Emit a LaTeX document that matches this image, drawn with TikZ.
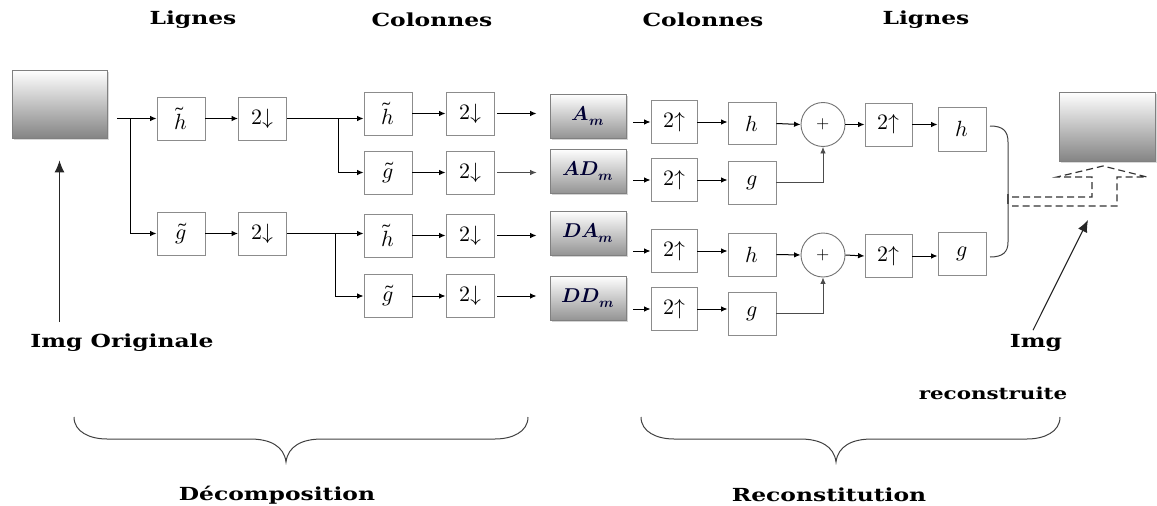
\documentclass[tikz,border=0pt]{standalone}
\usepackage{fontspec}
\usepackage{unicode-math}
\setmathfont{Latin Modern Math}
\newfontfamily\labfont[FakeStretch=1.3]{DejaVu Serif}
\usetikzlibrary{arrows.meta,shadows}

\begin{document}
\begin{tikzpicture}[x=1pt,y=-1pt,
  lab/.style={font=\labfont\bfseries\fontsize{18}{21}\selectfont, inner sep=0pt},
  filt/.style={draw=black!45, line width=0.9pt, fill=white, minimum width=48pt,
    minimum height=43pt, inner sep=0pt, font=\fontsize{22}{26}\selectfont},
  upbox/.style={filt, minimum width=46pt},
  band/.style={draw=black!50, line width=0.9pt, top color=white, bottom color=black!42,
    minimum width=76pt, minimum height=44pt, inner sep=0pt,
    drop shadow={shadow xshift=1.5pt, shadow yshift=-1.5pt, opacity=0.35},
    font=\fontsize{20}{24}\selectfont, text=black!80!blue},
  imgbox/.style={draw=black!50, line width=0.9pt, top color=white, bottom color=black!48,
    inner sep=0pt, drop shadow={shadow xshift=1.5pt, shadow yshift=-1.5pt, opacity=0.3}},
  summer/.style={circle, draw=black!55, line width=0.9pt, fill=white, minimum size=44pt,
    inner sep=0pt, font=\fontsize{17}{20}\selectfont},
  arr/.style={-{Latex[length=6.5pt,width=5.5pt]}, line width=1pt},
  thinarr/.style={-{Latex[length=6.5pt,width=5.5pt]}, line width=0.8pt, draw=black!70},
  bigarr/.style={-{Latex[length=12pt,width=10pt]}, line width=1.1pt, draw=black!85},
  brace/.style={line width=1pt, draw=black!75}
]
\useasboundingbox (0,0) rectangle (1157,506);

% column headings
\node[lab] (t1) at (193,20) {Lignes};
\node[lab] (t2) at (432,20) {Colonnes};
\node[lab] (t3) at (703,20) {Colonnes};
\node[lab] (t4) at (926,20) {Lignes};

% input and output images
\node[imgbox, minimum width=95pt, minimum height=68pt] (orig) at (59.5,104) {};
\node[imgbox, minimum width=96pt, minimum height=69pt] (rec) at (1107,126.5) {};

% analysis: rows
\node[filt] (h1) at (181,118.5) {$\tilde h$};
\node[filt] (d1) at (262.5,118.5) {$2{\downarrow}$};
\node[filt] (g1) at (181,233.5) {$\tilde g$};
\node[filt] (d2) at (262.5,233.5) {$2{\downarrow}$};

% analysis: columns
\node[filt] (hh) at (388,113.5) {$\tilde h$};
\node[filt] (hg) at (388,172.5) {$\tilde g$};
\node[filt] (gh) at (388,235.5) {$\tilde h$};
\node[filt] (gg) at (388,296) {$\tilde g$};
\node[filt] (dhh) at (470,113.5) {$2{\downarrow}$};
\node[filt] (dhg) at (470,172.5) {$2{\downarrow}$};
\node[filt] (dgh) at (470,235.5) {$2{\downarrow}$};
\node[filt] (dgg) at (470,296) {$2{\downarrow}$};

% sub-bands
\node[band] (am) at (588,116) {$\symbfit{A}_{\symbfit{m}}$};
\node[band] (ad) at (588,171) {$\symbfit{AD}_{\symbfit{m}}$};
\node[band] (da) at (588,233) {$\symbfit{DA}_{\symbfit{m}}$};
\node[band] (dd) at (588,298) {$\symbfit{DD}_{\symbfit{m}}$};

% synthesis: columns
\node[upbox] (u1) at (674,122) {$2{\uparrow}$};
\node[upbox] (u2) at (674,180) {$2{\uparrow}$};
\node[upbox] (u3) at (674,251) {$2{\uparrow}$};
\node[upbox] (u4) at (674,309) {$2{\uparrow}$};
\node[filt, minimum height=42pt] (r1) at (752,123.5) {$h$};
\node[filt] (r2) at (752,182.5) {$g$};
\node[filt] (r3) at (752,254.5) {$h$};
\node[filt] (r4) at (752,313.5) {$g$};
\node[summer] (p1) at (823,124.5) {$+$};
\node[summer] (p2) at (823,255) {$+$};

% synthesis: rows
\node[upbox, minimum width=47pt] (u5) at (888.5,124.5) {$2{\uparrow}$};
\node[upbox, minimum width=47pt] (u6) at (888.5,256) {$2{\uparrow}$};
\node[filt, minimum height=44pt] (r5) at (962,129) {$h$};
\node[filt] (r6) at (962,253.5) {$g$};

% side labels
\node[lab] (lo) at (122,343) {Img Originale};
\node[lab] (lr1) at (1036,343) {Img};
\node[lab, font=\labfont\bfseries\fontsize{16.5}{20}\selectfont] (lr2) at (993,393) {reconstruite};
\node[lab] (ld) at (277,495) {Décomposition};
\node[lab] (lrc) at (829,495) {Reconstitution};

% analysis connectors
\coordinate (s0) at (117,118.5);
\coordinate (b0) at (130,118.5);
\draw[arr] (s0) -- (h1.west);
\draw[arr] (b0) |- (g1.west);
\draw[arr] (h1) -- (d1);
\draw[arr] (g1) -- (d2);
\draw[arr] (d1.east) -- (d1.east -| hh.west);
\coordinate (b1) at (338,118.5);
\draw[arr] (b1) |- (hg.west);
\draw[arr] (d2.east) -- (d2.east -| gh.west);
\coordinate (b2) at (335,233.5);
\draw[arr] (b2) |- (gg.west);
\foreach \a/\b in {hh/dhh, hg/dhg, gh/dgh, gg/dgg} \draw[arr] (\a) -- (\b);
\draw[arr, shorten <=3pt, shorten >=13pt] (dhh.east) -- (dhh.east -| am.west);
\draw[thinarr, shorten <=3pt, shorten >=13pt] (dhg.east) -- (dhg.east -| ad.west);
\draw[arr, shorten <=3pt, shorten >=13pt] (dgh.east) -- (dgh.east -| da.west);
\draw[arr, shorten <=3pt, shorten >=13pt] (dgg.east) -- (dgg.east -| dd.west);

% synthesis connectors
\draw[arr, shorten <=7pt] (u1.west -| am.east) -- (u1.west);
\draw[arr, shorten <=7pt] (u2.west -| ad.east) -- (u2.west);
\draw[arr, shorten <=7pt] (u3.west -| da.east) -- (u3.west);
\draw[arr, shorten <=7pt] (u4.west -| dd.east) -- (u4.west);
\foreach \a/\b in {u1/r1, u2/r2, u3/r3, u4/r4} \draw[arr] (\a.east) -- (\a.east -| \b.west);
\draw[arr] (r1.east) -- (p1.west);
\draw[arr] (r3.east) -- (p2.west);
\draw[thinarr] (r2.east) -| (p1.south);
\draw[thinarr] (r4.east) -| (p2.south);
\draw[arr] (p1.east) -- (u5.west);
\draw[arr] (p2.east) -- (u6.west);
\draw[arr] (u5.east) -- (u5.east -| r5.west);
\draw[arr] (u6.east) -- (u6.east -| r6.west);

% joining brace of the two outputs
\coordinate (jt) at (990,126);
\coordinate (jb) at (990,257);
\draw[brace] (jt) .. controls (1003,126) and (1008,131) .. (1008,142)
  -- (1008,242) .. controls (1008,252) and (1003,257) .. (jb);
\draw[line width=2.4pt, black!70] (1008,194) -- (1008,204);

% dashed block arrow into the reconstructed image
\draw[dash pattern=on 7pt off 4pt, line width=1.2pt, black!80]
  (1012,197) -- (1092,197) -- (1092,177) -- (1057,177) -- (1103,166)
  -- (1147,177) -- (1117,177) -- (1117,206) -- (1012,206);

% pointers to the images
\coordinate (oa) at (59.5,322);
\draw[bigarr] (oa) -- ([yshift=-22pt]orig.south);
\coordinate (ra) at (1088,220);
\draw[bigarr] ([xshift=-3pt,yshift=4pt]lr1.north) -- (ra);

% bottom braces
\draw[brace] (74,417) .. controls (74,432) and (90,439) .. (107,439) -- (250,439)
  .. controls (270,439) and (284,446) .. (286,462)
  .. controls (288,446) and (302,439) .. (322,439) -- (495,439)
  .. controls (512,439) and (528,432) .. (528,417);
\draw[brace] (641,417) .. controls (641,432) and (657,439) .. (674,439) -- (800,439)
  .. controls (820,439) and (834,446) .. (836,462)
  .. controls (838,446) and (852,439) .. (872,439) -- (1027,439)
  .. controls (1044,439) and (1060,432) .. (1060,417);
\end{tikzpicture}
\end{document}
